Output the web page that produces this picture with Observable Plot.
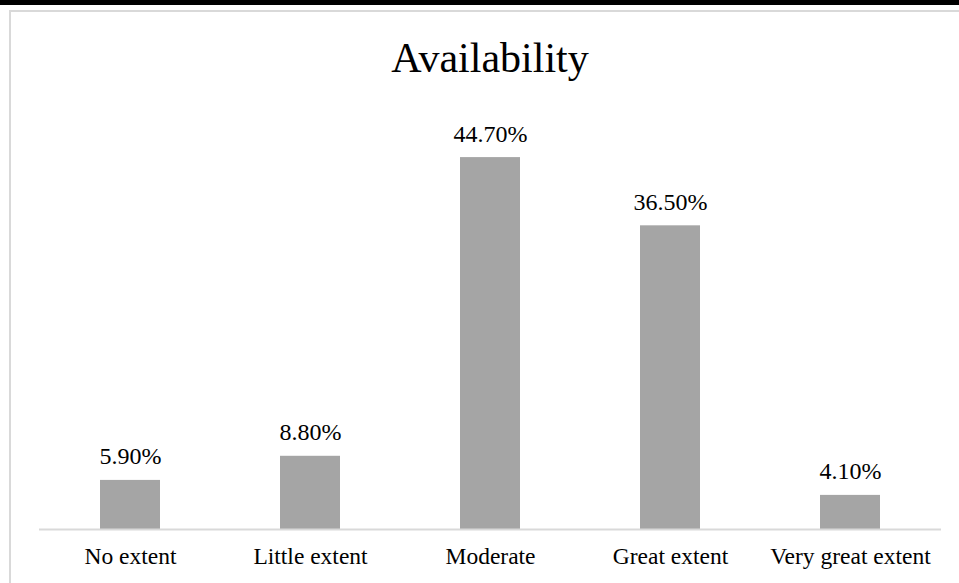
<!DOCTYPE html>
<html>
<head>
<meta charset="utf-8">
<script src="https://cdn.jsdelivr.net/npm/d3@7"></script>
<script src="https://cdn.jsdelivr.net/npm/@observablehq/plot@0.6"></script>
<style>
  html, body { margin: 0; padding: 0; background: #fff; }
  #wrap { position: relative; width: 959px; height: 583px; overflow: hidden; font-family: "Liberation Serif", "Times New Roman", serif; }
  #topbar { position: absolute; left: 0; top: 0; width: 959px; height: 5px; background: #000; }
  #frame { position: absolute; left: 9px; top: 10px; width: 960px; height: 600px; border-left: 2px solid #d9d9d9; border-top: 2px solid #d9d9d9; box-sizing: border-box; }
  #title { position: absolute; left: 0; width: 980px; top: 37px; text-align: center; font-size: 42px; line-height: 42px; color: #000; }
  #chart { position: absolute; left: 0; top: 0; }
  #chart svg, #chart svg text, #chart svg g { font-family: "Liberation Serif", "Times New Roman", serif !important; }
</style>
</head>
<body>
<div id="wrap">
  <div id="topbar"></div>
  <div id="frame"></div>
  <div id="chart"></div>
  <div id="title">Availability</div>
</div>
<script>
const categories = ["No extent", "Little extent", "Moderate", "Great extent", "Very great extent"];
const values = [5.9, 8.8, 44.7, 36.5, 4.1];
const valueLabels = ["5.90%", "8.80%", "44.70%", "36.50%", "4.10%"];

const data = categories.map((c, i) => ({category: c, value: values[i], label: valueLabels[i]}));
const serif = "Liberation Serif";

const chart = Plot.plot({
  width: 959,
  height: 583,
  marginLeft: 39,
  marginRight: 18,
  marginTop: 113,
  marginBottom: 54,
  style: {fontFamily: serif, background: "transparent", color: "#000"},
  x: {domain: categories, paddingInner: 0.667, paddingOuter: 0.333, label: null},
  y: {domain: [0, 50], axis: null},
  marks: [
    Plot.barY(data, {x: "category", y: "value", fill: "#a5a5a5"}),
    Plot.ruleY([0], {stroke: "#d9d9d9", strokeWidth: 2}),
    Plot.text(data, {x: "category", y: "value", text: "label", lineAnchor: "bottom", dy: -16, fontSize: 24, fontFamily: serif, fontVariant: "normal", fill: "#000"}),
    Plot.axisX({tickSize: 0, tickPadding: 18, fontSize: 23.5, fontFamily: serif, label: null, fill: "#000"})
  ]
});
document.getElementById("chart").appendChild(chart);
</script>
</body>
</html>
